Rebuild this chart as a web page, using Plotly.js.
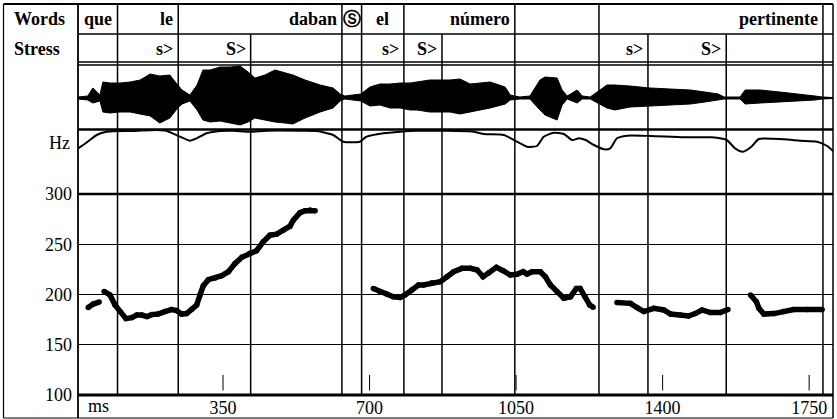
<!DOCTYPE html>
<html>
<head>
<meta charset="utf-8">
<script src="https://cdn.plot.ly/plotly-3.0.1.min.js"></script>
<style>html,body{margin:0;padding:0;background:#fff;}#chart{width:837px;height:419px;}</style>
</head>
<body>
<div id="chart"></div>
<script>
// ---- Tiers ----
const wordEdges = [4, 98, 243, 634, 681, 782, 1047, 1248, 1783, 1807];
const wordLabels = ["que", "le", "daban", "Ⓢ", "el", "número", "", "pertinente", ""];
const wordAlign = ["center", "right", "right", "center", "center", "right", "center", "right", "center"];
const stressEdges = [4, 98, 243, 416, 634, 681, 782, 873, 1047, 1248, 1365, 1552, 1783, 1807];
const stressLabels = ["", "s>", "S>", "", "", "s>", "S>", "", "", "s>", "S>", "", ""];

// ---- Axis ticks ----
const msTicks = [350, 700, 1050, 1400, 1750];
const hzTicks = [100, 150, 200, 250, 300];

// ---- Waveform amplitude envelope (ms, upper, lower) ----
const waveTime = [4, 27, 39, 56, 63, 80, 104, 128, 152, 176, 199, 223, 238, 252, 271, 288, 302, 319, 343, 367, 391, 410, 426, 450, 474, 498, 517, 546, 582, 613, 630, 641, 679, 701, 725, 749, 773, 797, 813, 844, 868, 892, 916, 940, 964, 988, 1024, 1036, 1059, 1083, 1107, 1119, 1148, 1160, 1172, 1196, 1208, 1227, 1267, 1286, 1322, 1370, 1418, 1466, 1501, 1533, 1547, 1585, 1597, 1633, 1680, 1728, 1764, 1781, 1807];
const waveTop = [1, 2, 10, 3, 16, 15, 15, 16, 18, 24, 22, 23, 15, 8, 3, 13, 28, 28, 31, 31, 32, 26, 20, 23, 28, 25, 23, 18, 13, 10, 4, 2, 4, 11, 14, 14, 15, 15, 16, 18, 18, 18, 19, 14, 15, 16, 11, 3, 1, 2, 18, 21, 20, 8, 2, 8, 2, 1, 13, 13, 12, 10, 9, 8, 6, 4, 1, 1, 8, 8, 6, 4, 2, 1, 0.5];
const waveBottom = [-1, -2, -5, -3, -14, -15, -14, -14, -16, -18, -25, -20, -12, -6, -3, -12, -22, -24, -23, -25, -27, -24, -20, -22, -24, -25, -26, -20, -14, -10, -3, -1, -3, -8, -7, -10, -10, -12, -12, -14, -14, -14, -16, -14, -12, -10, -6, -2, -1, -1, -12, -17, -22, -7, -1, -5, -1, -1, -10, -12, -9, -8, -7, -6, -4, -2, -1, -1, -6, -5, -4, -3, -2, -1, -0.5];

// ---- Intensity curve ----
const intTime = [4, 16, 32, 48, 72, 136, 192, 216, 247, 271, 287, 311, 343, 375, 414, 454, 534, 574, 613, 637, 677, 693, 733, 773, 813, 949, 973, 1021, 1052, 1076, 1100, 1116, 1140, 1164, 1184, 1200, 1216, 1236, 1260, 1275, 1291, 1315, 1371, 1451, 1517, 1553, 1573, 1592, 1612, 1630, 1689, 1729, 1769, 1793, 1807];
const intLevel = [45.7, 49, 54, 59, 62.3, 63, 64, 63, 57.3, 53.3, 55.7, 60.7, 63, 63.3, 62.3, 63.3, 63.3, 63, 59, 52.3, 52.3, 57.3, 60.7, 62.3, 63.3, 62.3, 60, 59, 52.3, 47.3, 48, 57.3, 61.3, 60, 54, 55.7, 54, 49, 44.7, 45.7, 55.7, 58.3, 58, 56.7, 56.7, 54, 45.7, 42.3, 47.3, 55, 54.7, 53.3, 52.3, 48, 43];

// ---- F0 contour (Hz), voiced stretches ----
const f0T1 = [28, 40, 54];
const f0H1 = [187, 190.5, 192.5];
const f0T2 = [66, 80, 92, 104, 118, 132, 144, 156, 168, 180, 195, 211, 227, 239, 251, 263, 275, 287, 295, 303, 315, 331, 347, 363, 379, 395, 414, 430, 446, 462, 478, 494, 510, 518, 534, 546, 558, 570];
const f0H2 = [203, 199.5, 189.5, 183, 176, 177, 179.5, 179.5, 178, 180, 180.5, 183, 185, 184, 180.5, 181, 185, 189.5, 199.5, 208.7, 214.7, 216.4, 218.7, 222.7, 231, 237, 241, 243.6, 252.5, 259, 260, 264, 268, 274, 281.4, 283.4, 284, 283.4];
const f0T3 = [709, 725, 741, 757, 773, 785, 801, 817, 829, 849, 869, 885, 901, 921, 941, 957, 971, 985, 1003, 1019, 1036, 1052, 1067, 1076, 1088, 1108, 1120, 1132, 1148, 1164, 1180, 1194, 1203, 1215, 1226, 1234];
const f0H3 = [206, 202.8, 200.5, 197.8, 197, 199.5, 204.5, 209.5, 209.5, 211.7, 212.7, 217.7, 222.7, 226, 226, 224.4, 217.7, 221.7, 227, 223.7, 219.4, 220.1, 222.7, 220.3, 222.7, 222.7, 217.7, 209.5, 202.8, 196.2, 197.8, 206, 206, 197.8, 189.5, 187.3];
const f0T4 = [1291, 1323, 1339, 1355, 1379, 1403, 1419, 1442, 1462, 1478, 1494, 1514, 1538, 1556];
const f0H4 = [192, 191.2, 187, 183, 186.3, 184.6, 180.5, 179.5, 178.6, 181, 184.6, 182, 182, 185];
const f0T5 = [1610, 1624, 1630, 1642, 1666, 1689, 1713, 1745, 1781];
const f0H5 = [199.5, 192.8, 186.3, 180.5, 181, 183, 185, 185, 185];

// ---------------------------------------------------------------
const W = 837, H = 419;
const py = p => 1 - p / H;   // pixel row -> paper
const px = p => p / W;       // pixel col -> paper
const FONT = "Liberation Serif";

const f0Time = [].concat(f0T1, [null], f0T2, [null], f0T3, [null], f0T4, [null], f0T5);
const f0Hz = [].concat(f0H1, [null], f0H2, [null], f0H3, [null], f0H4, [null], f0H5);

const traces = [
  {x: waveTime, y: waveBottom, xaxis: 'x', yaxis: 'y3', mode: 'lines', line: {color: '#000', width: 1}, hoverinfo: 'skip'},
  {x: waveTime, y: waveTop, xaxis: 'x', yaxis: 'y3', mode: 'lines', fill: 'tonexty', fillcolor: '#000', line: {color: '#000', width: 1}, hoverinfo: 'skip'},
  {x: intTime, y: intLevel, xaxis: 'x', yaxis: 'y2', mode: 'lines', line: {color: '#000', width: 2, shape: 'spline', smoothing: 0.6}, hoverinfo: 'skip'},
  {x: f0Time, y: f0Hz, xaxis: 'x', yaxis: 'y', mode: 'lines+markers', connectgaps: false, line: {color: '#000', width: 5.5}, marker: {color: '#000', size: 5.5}, hoverinfo: 'skip'}
];

const shapes = [];
const line = (x0, y0, x1, y1, w, xref, yref) => shapes.push({type: 'line', xref: xref, yref: yref, x0: x0, y0: y0, x1: x1, y1: y1, line: {color: '#000', width: w}});

// outer frame
line(px(3.5), py(4), px(833), py(4), 2, 'paper', 'paper');
line(px(3.5), py(418), px(833), py(418), 1.2, 'paper', 'paper');
line(px(3.5), py(4), px(3.5), py(418), 1.2, 'paper', 'paper');
line(px(833), py(4), px(833), py(418), 1.5, 'paper', 'paper');
line(px(78), py(4), px(78), py(418), 1.8, 'paper', 'paper');
// horizontal separators
line(px(78), py(34), px(833), py(34), 1.5, 'paper', 'paper');
line(px(78), py(62), px(833), py(62), 1.5, 'paper', 'paper');
line(px(78), py(65), px(833), py(65), 1.5, 'paper', 'paper');
line(px(78), py(129.5), px(833), py(129.5), 2.5, 'paper', 'paper');
line(px(78), py(194), px(833), py(194), 2.5, 'paper', 'paper');
line(px(78), py(395), px(833), py(395), 3, 'paper', 'paper');

// segment boundaries
const fullEdges = wordEdges.slice(1, -1);
stressEdges.slice(1, -1).forEach(t => {
  const top = fullEdges.indexOf(t) >= 0 ? 4 : 34;
  line(t, py(395), t, py(top), 1.5, 'x', 'paper');
});
// small time marks above the axis
msTicks.forEach(t => line(t, 104.5, t, 120, 1, 'x', 'y'));

const annotations = [];
const txt = (x, y, text, xanchor, xref, opts) => annotations.push(Object.assign({x: x, y: y, xref: xref, yref: 'paper', text: text, showarrow: false, xanchor: xanchor, yanchor: 'middle', font: {family: FONT, size: 18, color: '#000'}}, opts || {}));

const tierRow = (edges, labels, aligns, yPix) => {
  labels.forEach((lab, i) => {
    if (!lab) return;
    const a = aligns ? aligns[i] : 'right';
    const x = a === 'right' ? edges[i + 1] : (edges[i] + edges[i + 1]) / 2;
    txt(x, py(yPix), '<b>' + lab + '</b>', a, 'x', {xshift: a === 'right' ? -3 : 0});
  });
};
tierRow(wordEdges, wordLabels, wordAlign, 19);
tierRow(stressEdges, stressLabels, null, 48.5);

txt(px(12), py(19), '<b>Words</b>', 'left', 'paper');
txt(px(12), py(48.5), '<b>Stress</b>', 'left', 'paper');
txt(px(72), py(142.5), 'Hz', 'right', 'paper');
txt(px(86), py(406), 'ms', 'left', 'paper');

const layout = {
  width: W, height: H,
  margin: {l: 0, r: 0, t: 0, b: 0},
  paper_bgcolor: '#fff', plot_bgcolor: 'rgba(0,0,0,0)',
  showlegend: false,
  font: {family: FONT, size: 18, color: '#000'},
  xaxis: {
    domain: [px(78), px(833)], range: [3.6, 1807], anchor: 'y',
    tickvals: msTicks, ticktext: msTicks.map(String), ticks: '',
    showgrid: false, zeroline: false, showline: false,
    tickfont: {family: FONT, size: 18, color: '#000'}
  },
  yaxis: {
    domain: [py(395), py(194)], range: [100, 300], anchor: 'x',
    tickvals: hzTicks, ticks: '', ticklabelstandoff: 5,
    showgrid: true, gridcolor: '#000', gridwidth: 1.3, zeroline: false, showline: false,
    tickfont: {family: FONT, size: 18, color: '#000'}
  },
  yaxis2: {
    domain: [py(194), py(129.5)], range: [0, 64.5], anchor: 'x',
    showticklabels: false, showgrid: false, zeroline: false, showline: false
  },
  yaxis3: {
    domain: [py(129.5), py(65)], range: [-31.5, 33], anchor: 'x',
    showticklabels: false, showgrid: false, zeroline: true, zerolinecolor: '#000', zerolinewidth: 1.2, showline: false
  },
  shapes: shapes,
  annotations: annotations
};

Plotly.newPlot('chart', traces, layout, {staticPlot: true, displayModeBar: false});
</script>
</body>
</html>
